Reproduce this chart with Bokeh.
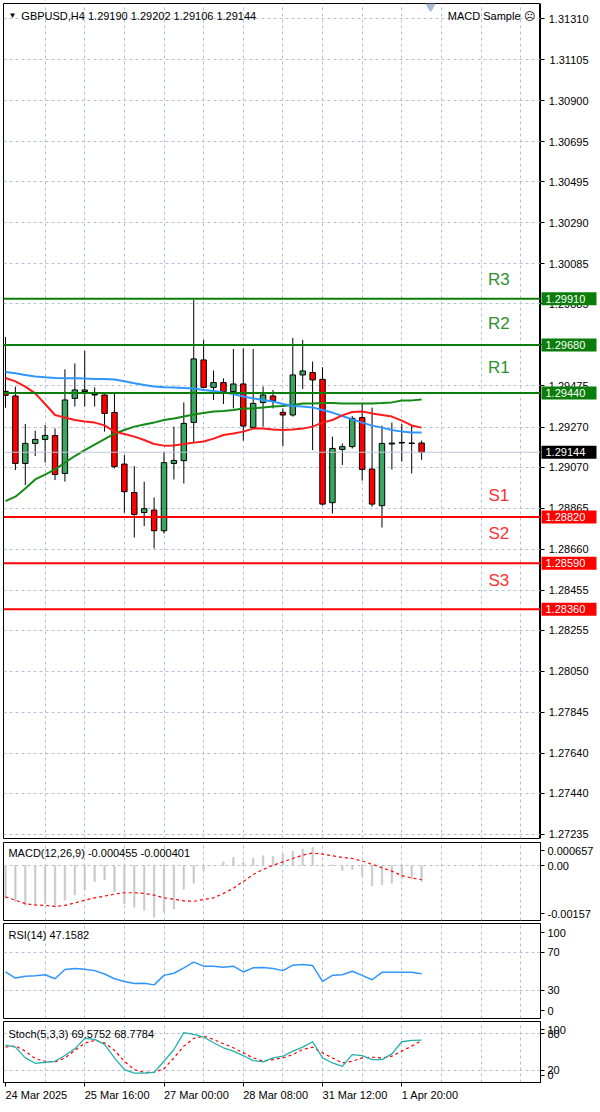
from bokeh.plotting import figure
from bokeh.layouts import column, row
from bokeh.models import Range1d, FixedTicker, Span, Label, PrintfTickFormatter, ColumnDataSource
from bokeh.embed import file_html
from bokeh.resources import INLINE
from bokeh.core.properties import value

# ---------------- data ----------------
bars = list(range(43))
opens = [1.29448, 1.29425, 1.29088, 1.29188, 1.29208, 1.29227, 1.29038, 1.29413, 1.29447, 1.29433,
         1.29430, 1.29343, 1.29085, 1.28943, 1.28843, 1.28855, 1.28752, 1.29088, 1.29102, 1.29293,
         1.29605, 1.29468, 1.29492, 1.29447, 1.29485, 1.29268, 1.29392, 1.29425, 1.29343, 1.29330,
         1.29530, 1.29542, 1.29508, 1.28892, 1.29158, 1.29172, 1.29317, 1.29060, 1.28877, 1.29185,
         1.29190, 1.29188, 1.29190]
highs = [1.29720, 1.29472, 1.29285, 1.29252, 1.29280, 1.29263, 1.29558, 1.29588, 1.29650, 1.29468,
         1.29433, 1.29435, 1.29130, 1.29075, 1.28997, 1.28918, 1.29147, 1.29272, 1.29393, 1.29905,
         1.29705, 1.29552, 1.29513, 1.29660, 1.29663, 1.29660, 1.29472, 1.29455, 1.29363, 1.29715,
         1.29705, 1.29597, 1.29568, 1.29222, 1.29188, 1.29325, 1.29385, 1.29367, 1.29277, 1.29292,
         1.29285, 1.29277, 1.29202]
lows = [1.29366, 1.29055, 1.28980, 1.29125, 1.29092, 1.29005, 1.28997, 1.29372, 1.29372, 1.29372,
        1.29247, 1.29063, 1.28842, 1.28718, 1.28775, 1.28663, 1.28738, 1.29008, 1.28988, 1.29193,
        1.29463, 1.29405, 1.29385, 1.29363, 1.29202, 1.29263, 1.29272, 1.29363, 1.29175, 1.29322,
        1.29460, 1.29155, 1.28878, 1.28838, 1.29080, 1.29163, 1.29002, 1.28872, 1.28768, 1.29058,
        1.29097, 1.29038, 1.29106]
closes = [1.29428, 1.29088, 1.29188, 1.29208, 1.29228, 1.29033, 1.29405, 1.29455, 1.29455, 1.29430,
          1.29338, 1.29072, 1.28947, 1.28833, 1.28862, 1.28752, 1.29092, 1.29103, 1.29288, 1.29610,
          1.29468, 1.29492, 1.29447, 1.29485, 1.29275, 1.29388, 1.29430, 1.29402, 1.29330, 1.29530,
          1.29550, 1.29505, 1.28885, 1.29163, 1.29172, 1.29313, 1.29058, 1.28885, 1.29188, 1.29190,
          1.29193, 1.29190, 1.29144]

ma_red = [1.29515, 1.29498, 1.29472, 1.29438, 1.29385, 1.29330, 1.29317, 1.29305, 1.29298, 1.29292,
          1.29278, 1.29247, 1.29235, 1.29222, 1.29205, 1.29185, 1.29177, 1.29178, 1.29185, 1.29192,
          1.29198, 1.29212, 1.29230, 1.29238, 1.29247, 1.29262, 1.29263, 1.29258, 1.29255, 1.29258,
          1.29262, 1.29272, 1.29292, 1.29305, 1.29328, 1.29345, 1.29347, 1.29338, 1.29330, 1.29322,
          1.29302, 1.29278, 1.29267]
ma_blue = [1.29545, 1.29538, 1.29530, 1.29522, 1.29518, 1.29515, 1.29513, 1.29513, 1.29512, 1.29510,
           1.29510, 1.29507, 1.29498, 1.29488, 1.29480, 1.29472, 1.29468, 1.29467, 1.29465, 1.29462,
           1.29455, 1.29450, 1.29443, 1.29435, 1.29422, 1.29413, 1.29405, 1.29397, 1.29385, 1.29375,
           1.29372, 1.29368, 1.29355, 1.29342, 1.29325, 1.29308, 1.29292, 1.29277, 1.29267, 1.29255,
           1.29247, 1.29243, 1.29243]
ma_green = [1.28900, 1.28922, 1.28963, 1.29008, 1.29032, 1.29058, 1.29092, 1.29125, 1.29155, 1.29182,
            1.29210, 1.29237, 1.29255, 1.29272, 1.29282, 1.29292, 1.29305, 1.29313, 1.29322, 1.29332,
            1.29340, 1.29347, 1.29350, 1.29355, 1.29362, 1.29363, 1.29368, 1.29372, 1.29375, 1.29380,
            1.29387, 1.29388, 1.29390, 1.29390, 1.29388, 1.29388, 1.29388, 1.29388, 1.29390, 1.29393,
            1.29402, 1.29403, 1.29407]

macd_main = [-0.000943, -0.00104, -0.00114, -0.00114, -0.00109, -0.00119, -0.00099, -0.000845, -0.000698, -0.000454,
             -0.000405, -0.000747, -0.00109, -0.00119, -0.00128, -0.00148, -0.00133, -0.00124, -0.000679, -0.000503,
             -0.000112, 0.000005, 0.000103, 0.00023, 0.000103, 0.0002, 0.000278, 0.000259, 0.000327, 0.000405,
             0.000474, 0.000513, -0.00002, 0.00002, -0.000142, -0.000112, -0.000288, -0.000581, -0.000552, -0.000503,
             -0.000376, -0.000386, -0.000455]
macd_signal = [-0.000894, -0.000991, -0.001089, -0.001128, -0.001138, -0.001167, -0.001138, -0.00107, -0.000991, -0.000923,
               -0.000874, -0.000816, -0.000777, -0.000777, -0.000796, -0.000845, -0.000923, -0.000962, -0.001011, -0.001021,
               -0.000972, -0.000923, -0.000796, -0.00065, -0.000454, -0.000259, -0.000112, 0.000005, 0.000103, 0.0002,
               0.000298, 0.000357, 0.000327, 0.000278, 0.00023, 0.0002, 0.000132, 0.000034, -0.000063, -0.000161,
               -0.000288, -0.000357, -0.000401]

rsi_vals = [49.0, 42.6, 44.4, 45.0, 46.1, 41.8, 51.5, 52.6, 51.8, 50.4,
            46.8, 41.8, 39.0, 36.8, 37.2, 35.4, 45.4, 47.6, 53.3, 59.4,
            55.1, 55.1, 54.0, 55.1, 49.0, 53.3, 53.6, 52.6, 50.4, 56.1,
            56.8, 55.7, 39.0, 45.4, 46.1, 49.7, 45.4, 40.8, 48.6, 48.6,
            48.6, 48.6, 47.16]

stoch_main = [61.3, 57.9, 40.3, 31.5, 33.2, 34.8, 44.2, 55.2, 72.3, 70.7,
              62.4, 40.3, 21.1, 15.5, 15.5, 16.6, 34.8, 54.1, 81.7, 78.9,
              74.5, 65.1, 56.9, 51.4, 44.2, 35.9, 33.7, 40.3, 43.1, 51.4,
              57.9, 66.8, 40.3, 32.0, 26.4, 45.8, 44.2, 37.6, 37.6, 46.9,
              66.8, 69.0, 69.58]
stoch_signal = [58.0, 60.0, 51.4, 39.2, 34.8, 33.7, 40.3, 52.5, 64.6, 69.0,
                65.1, 52.5, 34.8, 21.1, 16.6, 16.6, 22.7, 40.3, 59.6, 72.3,
                76.1, 70.6, 63.5, 56.9, 48.6, 40.3, 34.8, 37.6, 40.3, 45.8,
                54.1, 57.9, 48.6, 40.3, 32.0, 34.8, 40.3, 41.4, 40.3, 43.1,
                51.4, 59.6, 68.78]

price_ticks = [1.31310, 1.31105, 1.30900, 1.30695, 1.30495, 1.30290, 1.30085, 1.29885, 1.29680, 1.29475,
               1.29270, 1.29070, 1.28865, 1.28660, 1.28455, 1.28255, 1.28050, 1.27845, 1.27640, 1.27440, 1.27235]
time_tick_bars = [0, 8, 16, 24, 32, 40]
time_tick_labels = ["24 Mar 2025", "25 Mar 16:00", "27 Mar 00:00", "28 Mar 08:00", "31 Mar 12:00", "1 Apr 20:00"]
res_levels = [1.29910, 1.29680, 1.29440]
res_names = ["R3", "R2", "R1"]
sup_levels = [1.28820, 1.28590, 1.28360]
sup_names = ["S1", "S2", "S3"]
last_price = 1.29144
header_text = "GBPUSD,H4  1.29190 1.29202 1.29106 1.29144"
macd_title = "MACD(12,26,9) -0.000455 -0.000401"
rsi_title = "RSI(14) 47.1582"
stoch_title = "Stoch(5,3,3) 69.5752 68.7784"
macd_tick_labels = ["0.000657", "0.00", "-0.00157"]
rsi_tick_labels = ["100", "70", "30", "0"]
stoch_tick_labels = ["100", "80", "20", "0"]

# ---------------- style ----------------
FONT = "Liberation Sans"
GRID = "#b3c2d9"
BULL = "#3aa660"
BEAR = "#ff0000"
LGREEN = "#0b7d0b"
LRED = "#ff0000"
FW = 537          # plot frame width
LB = 3            # left border
RB = 60           # price-scale column width
X0, X1 = -0.2, 54.0
BAR_PX = FW / (X1 - X0)
x_range = Range1d(X0, X1)
grid_bars = list(range(4, 53, 4))

# approximate Liberation Sans advance widths (em) for label alignment
CHAR_W = {" ": 0.278, ":": 0.278, "M": 0.833, "A": 0.667, "a": 0.556, "r": 0.333, "p": 0.556}


def text_px(s, size=11):
    return sum(CHAR_W.get(ch, 0.556) for ch in s) * size


def style_axis(ax):
    ax.axis_line_color = "black"
    ax.major_tick_line_color = "black"
    ax.major_tick_out = 4
    ax.major_tick_in = 0
    ax.minor_tick_out = 0
    ax.minor_tick_in = 0
    ax.major_label_text_font = FONT
    ax.major_label_text_font_size = "11px"
    ax.major_label_text_color = "black"
    ax.major_label_standoff = 3


def base(frame_h, y_range, top, bottom, x_axis=None, y_axis="right", rb=RB):
    p = figure(frame_width=FW, frame_height=frame_h, x_range=x_range, y_range=y_range,
               output_backend="svg", toolbar_location=None,
               x_axis_location=x_axis, y_axis_location=y_axis,
               min_border_left=LB, min_border_right=rb, min_border_top=top, min_border_bottom=bottom,
               background_fill_color="white", border_fill_color="white")
    p.outline_line_color = "black"
    p.outline_line_width = 1
    p.outline_line_alpha = 1.0
    p.xgrid.ticker = FixedTicker(ticks=grid_bars)
    for g in (p.xgrid, p.ygrid):
        g.grid_line_color = GRID
        g.grid_line_dash = "3 3"
        g.grid_line_width = 1
    for ax in p.yaxis:
        style_axis(ax)
    return p


def add_label(p, x, y, text, size="11px", color="black", align="left"):
    p.add_layout(Label(x=x, y=y, text=text, text_font=FONT, text_font_size=size,
                       text_color=color, text_align=align, text_baseline="middle"))


# ---------------- main price panel ----------------
y_lo, y_hi = 1.27215, 1.31385
FH_MAIN = 835
main = base(FH_MAIN, Range1d(y_lo, y_hi), 3, 3, y_axis=None, rb=0)
ppx = (y_hi - y_lo) / FH_MAIN
main.ygrid.ticker = FixedTicker(ticks=price_ticks)

main.add_layout(Span(location=last_price, dimension="width", line_color="#bcc8d8", line_width=1))

src = ColumnDataSource(dict(
    x=bars, h=highs, l=lows,
    top=[max(o, c) for o, c in zip(opens, closes)],
    bottom=[min(o, c) for o, c in zip(opens, closes)],
    color=[BULL if c >= o else BEAR for o, c in zip(opens, closes)],
))
main.segment(x0="x", y0="h", x1="x", y1="l", source=src, line_color="black", line_width=1)
main.vbar(x="x", width=0.55, top="top", bottom="bottom", source=src,
          fill_color="color", line_color="black", line_width=1)

main.line(bars, ma_green, line_color="#138a13", line_width=2)
main.line(bars, ma_blue, line_color="#2f95ff", line_width=2)
main.line(bars, ma_red, line_color="#ff1a1a", line_width=2)

res_off = [19, 21, 25]
sup_off = [22, 30, 29]
for lvl, name, off in zip(res_levels, res_names, res_off):
    main.add_layout(Span(location=lvl, dimension="width", line_color=LGREEN, line_width=2))
    add_label(main, 49.8, lvl + off * ppx, name, size="17px", color="#2f902f", align="center")
for lvl, name, off in zip(sup_levels, sup_names, sup_off):
    main.add_layout(Span(location=lvl, dimension="width", line_color=LRED, line_width=2))
    add_label(main, 49.8, lvl + off * ppx, name, size="17px", color="#ff3030", align="center")

add_label(main, 0.3, y_hi - 12 * ppx, "\u25BC", size="8px")
add_label(main, 1.6, y_hi - 12 * ppx, header_text)
add_label(main, 53.4, y_hi - 12 * ppx, "MACD Sample \u2639", align="right")
main.scatter(x=[42.9], y=[y_hi - 3 * ppx], marker="inverted_triangle", size=9,
             fill_color="#a8bbd6", line_color="#a8bbd6")

# price scale column: a real axis whose labels sit inside the column, level boxes drawn on top
lab = figure(frame_width=RB, frame_height=FH_MAIN, x_range=Range1d(0, RB), y_range=main.y_range,
             output_backend="svg", toolbar_location=None, x_axis_location=None, y_axis_location="left",
             min_border_left=0, min_border_right=0, min_border_top=3, min_border_bottom=3,
             background_fill_color="white", border_fill_color="white")
lab.outline_line_color = None
lab.grid.visible = False
pax = lab.yaxis[0]
style_axis(pax)
pax.ticker = FixedTicker(ticks=price_ticks)
pax.formatter = PrintfTickFormatter(format="%.5f")
pax.major_tick_out = 0
pax.major_tick_in = 4
pax.major_label_standoff = -48

box_levels = res_levels + sup_levels + [last_price]
box_colors = [LGREEN] * 3 + [LRED] * 3 + ["black"]
box_src = ColumnDataSource(dict(y=box_levels, c=box_colors, t=[f"{v:.5f}" for v in box_levels]))
lab.rect(x=28.5, y="y", width=55, height=13, height_units="screen", source=box_src,
         fill_color="c", line_color=None, level="overlay")
lab.text(x=5, y="y", text="t", source=box_src, text_color="white", text_font=value(FONT),
         text_font_size="11px", text_baseline="middle", text_align="left", level="overlay")

# ---------------- MACD panel ----------------
m_lo, m_hi = -0.00157, 0.000657
FH_MACD = 78
macd = base(FH_MACD, Range1d(m_lo, m_hi), 1, 1)
mpx = (m_hi - m_lo) / FH_MACD
macd_tick_pos = [m_hi - 8 * mpx, 0.0, m_lo + 7 * mpx]
macd.yaxis.ticker = FixedTicker(ticks=macd_tick_pos)
macd.yaxis.major_label_overrides = {t: s for t, s in zip(macd_tick_pos, macd_tick_labels)}
macd.ygrid.ticker = FixedTicker(ticks=[0.0])
macd.vbar(x=bars, top=macd_main, bottom=0, width=0.16, fill_color="#c8c8c8", line_color="#c8c8c8", line_width=0.5)
macd.line(bars, macd_signal, line_color="#ff0000", line_width=1.2, line_dash="3 3")
add_label(macd, 0.3, m_hi - 10 * mpx, macd_title)

# ---------------- RSI panel ----------------
FH_RSI = 95
rsi_fig = base(FH_RSI, Range1d(0, 100), 2, 1)
rpx = 100 / FH_RSI
rsi_tick_pos = [100 - 9 * rpx, 70, 30, 8 * rpx]
rsi_fig.yaxis.ticker = FixedTicker(ticks=rsi_tick_pos)
rsi_fig.yaxis.major_label_overrides = {t: s for t, s in zip(rsi_tick_pos, rsi_tick_labels)}
rsi_fig.ygrid.ticker = FixedTicker(ticks=[70, 30])
rsi_fig.line(bars, rsi_vals, line_color="#2f95ff", line_width=1.5)
add_label(rsi_fig, 0.3, 100 - 11 * rpx, rsi_title)

# ---------------- Stochastic panel ----------------
FH_ST = 61
st = base(FH_ST, Range1d(0, 100), 2, 23, x_axis="below")
spx = 100 / FH_ST
st_tick_pos = [100 - 8 * spx, 80, 20, 7.5 * spx]
st.yaxis.ticker = FixedTicker(ticks=st_tick_pos)
st.yaxis.major_label_overrides = {t: s for t, s in zip(st_tick_pos, stoch_tick_labels)}
st.ygrid.ticker = FixedTicker(ticks=[80, 20])
st.line(bars, stoch_signal, line_color="#ff0000", line_width=1.2, line_dash="3 3")
st.line(bars, stoch_main, line_color="#20b2aa", line_width=1.3)
add_label(st, 0.3, 100 - 12 * spx, stoch_title)

# time axis: tick marks at the bars (minor ticks), labels starting at each tick (MT4 style)
label_pos = [b + text_px(s) / 2 / BAR_PX for b, s in zip(time_tick_bars, time_tick_labels)]
xa = st.xaxis[0]
style_axis(xa)
xa.ticker = FixedTicker(ticks=label_pos, minor_ticks=time_tick_bars)
xa.major_label_overrides = {t: s for t, s in zip(label_pos, time_tick_labels)}
xa.major_tick_line_color = None
xa.major_tick_out = 4
xa.minor_tick_out = 4
xa.minor_tick_in = 0
xa.minor_tick_line_color = "black"
xa.major_label_standoff = 2

layout = column(row(main, lab, spacing=0), macd, rsi_fig, st, spacing=0)
open("out.html", "w").write(file_html(layout, INLINE))
